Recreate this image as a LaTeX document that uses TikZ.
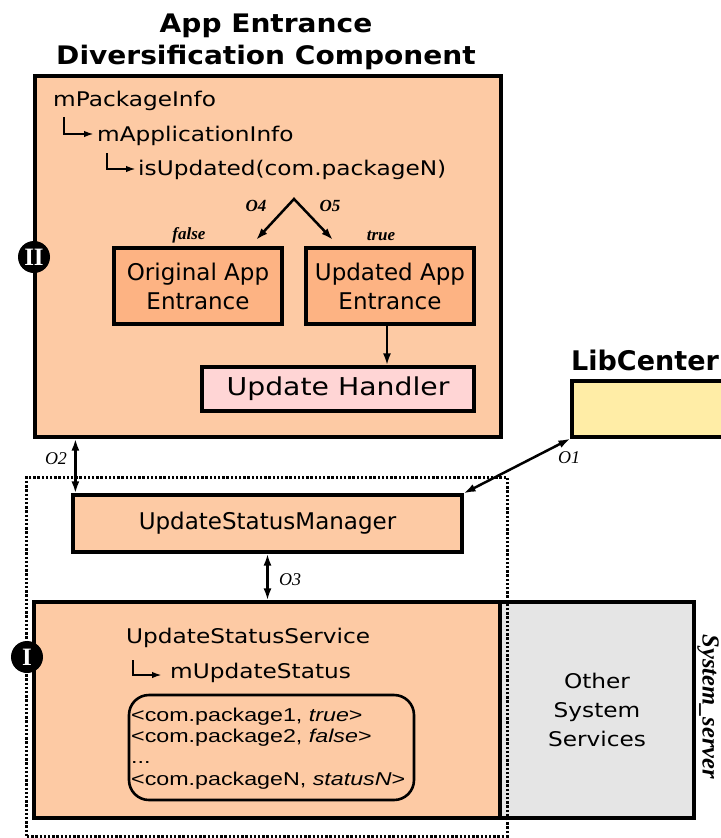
\documentclass[tikz,border=0pt]{standalone}
\usepackage{fontspec}
\setmainfont{DejaVu Sans}[FakeStretch=1.15]
\newfontfamily\headfont{DejaVu Sans}[FakeStretch=1.1]
\newfontfamily\boxfont{DejaVu Sans}
\newfontfamily\listfont{Liberation Sans}[FakeStretch=1.25]
\newfontfamily\notefont{Liberation Serif}
\usetikzlibrary{arrows.meta}

\definecolor{peach}{HTML}{FDCAA4}
\definecolor{apricot}{HTML}{FDB383}
\definecolor{blush}{HTML}{FFD5D5}
\definecolor{cream}{HTML}{FFEDA6}
\definecolor{ash}{HTML}{E5E5E5}

\tikzset{
  box/.style={draw, line width=3.2bp, inner sep=0pt, rectangle},
  txt/.style={anchor=base west, inner sep=0pt, font=\fontsize{20.2bp}{29bp}\selectfont},
  boxtxt/.style={align=center, font=\boxfont\fontsize{23bp}{29bp}\selectfont},
  heading/.style={inner sep=0pt, font=\headfont\bfseries\fontsize{25.5bp}{32bp}\selectfont},
  lab/.style={inner sep=0pt, font=\notefont\bfseries\itshape\fontsize{17bp}{17bp}\selectfont},
  olab/.style={inner sep=0pt, font=\notefont\itshape\fontsize{18bp}{18bp}\selectfont},
  numeral/.style={circle, fill=black, minimum size=32bp, inner sep=0pt, text=white,
    font=\notefont\bfseries\fontsize{25bp}{25bp}\selectfont},
  hook/.style={line width=2.4bp, line join=miter, -{Latex[length=10bp,width=6.5bp]}},
  arr/.style={line width=2.5bp, -{Latex[length=12bp,width=8bp]}},
  biarr/.style={line width=2.5bp, {Latex[length=12bp,width=8bp]}-{Latex[length=12bp,width=8bp]}},
}

\begin{document}
\begin{tikzpicture}[x=1bp,y=-1bp]
\useasboundingbox (0,0) rectangle (721,838);

% ---- App entrance diversification component ----
\node[heading, anchor=base, align=center] (title) at (266,64)
  {App Entrance\\Diversification Component};
\node[box, fill=peach, minimum width=466bp, minimum height=361bp] (comp) at (268,256.5) {};

\node[txt] (pkg) at (53,106) {mPackageInfo};
\node[txt] (appinfo) at (97,141) {mApplicationInfo};
\node[txt] (isupd) at (138,175) {isUpdated(com.packageN)};
\coordinate (h1a) at (64,117);  \coordinate (h1b) at (94,134);
\coordinate (h2a) at (107,153); \coordinate (h2b) at (136,169);
\draw[hook] (h1a) |- (h1b);
\draw[hook] (h2a) |- (h2b);

\node[box, boxtxt, fill=apricot, minimum width=168bp, minimum height=76bp]
  (orig) at (198,286) {Original App\\Entrance};
\node[box, boxtxt, fill=apricot, minimum width=168bp, minimum height=76bp]
  (upd) at (390,286) {Updated App\\Entrance};
\node[box, fill=blush, minimum width=272bp, minimum height=44bp,
  font=\fontsize{24.6bp}{29bp}\selectfont] (handler) at (338,389) {Update Handler};

% branch on the update flag
\coordinate (apex) at (294,199);
\coordinate (tipF) at (256,240);
\coordinate (tipT) at (333,240);
\draw[biarr, line join=miter] (tipF) -- (apex) -- (tipT);
\node[lab] (o4) at (256,206) {O4};
\node[lab] (o5) at (330,206) {O5};
\node[lab] (lfalse) at (189,235) {false};
\node[lab] (ltrue) at (381,236) {true};
\draw[arr] ([xshift=-3bp]upd.south) -- ([xshift=-3bp]upd.south |- handler.north);

\node[numeral] (n2) at (34,257) {II};

% ---- LibCenter ----
\node[anchor=base west, inner sep=0pt, font=\boxfont\bfseries\fontsize{27bp}{32bp}\selectfont]
  (libname) at (571,370) {LibCenter};
\node[box, fill=cream, minimum width=188bp, minimum height=56bp] (lib) at (666,409) {};

% ---- system_server ----
\node[box, boxtxt, fill=peach, minimum width=389bp, minimum height=57bp]
  (mgr) at (267.5,523.5) {UpdateStatusManager};

\node[box, fill=peach, minimum width=466bp, minimum height=216bp] (svc) at (267,710) {};
\node[box, fill=ash, minimum width=194bp, minimum height=216bp, align=center,
  font=\fontsize{20.2bp}{29bp}\selectfont] (others) at (597,710) {Other\\System\\Services};

\node[txt] (svcname) at (126,643) {UpdateStatusService};
\node[txt] (status) at (170,678) {mUpdateStatus};
\coordinate (h3a) at (133,660); \coordinate (h3b) at (162,675);
\draw[hook] (h3a) |- (h3b);

\node[draw, line width=2.6bp, rounded corners=20bp, minimum width=285bp,
  minimum height=105bp, inner sep=0pt] (table) at (271.5,747.5) {};
\node[anchor=base west, align=left, inner sep=0pt,
  font=\listfont\fontsize{18.6bp}{21.3bp}\selectfont] (rows) at (131,785)
  {<com.package1, \textit{true}>\\<com.package2, \textit{false}>\\...\\<com.packageN, \textit{statusN}>};

\node[draw, line width=3bp, dash pattern=on 2.4bp off 1.8bp, minimum width=480bp,
  minimum height=359bp, inner sep=0pt] (group) at (267,656.5) {};

\node[numeral] (n1) at (27,657) {I};
\node[inner sep=0pt, rotate=-90, font=\notefont\bfseries\itshape\fontsize{24.5bp}{24.5bp}\selectfont]
  (sysname) at (708,707) {System\_server};

% ---- interactions ----
\draw[biarr] ([xshift=42bp]comp.south west) -- ([xshift=42bp]comp.south west |- mgr.north);
\draw[biarr] (lib.south west) -- (mgr.north east);
\draw[biarr] (mgr.south) -- (mgr.south |- svc.north);
\node[olab] (o2) at (56,459) {O2};
\node[olab] (o1) at (569,458) {O1};
\node[olab] (o3) at (290,580) {O3};
\end{tikzpicture}
\end{document}
